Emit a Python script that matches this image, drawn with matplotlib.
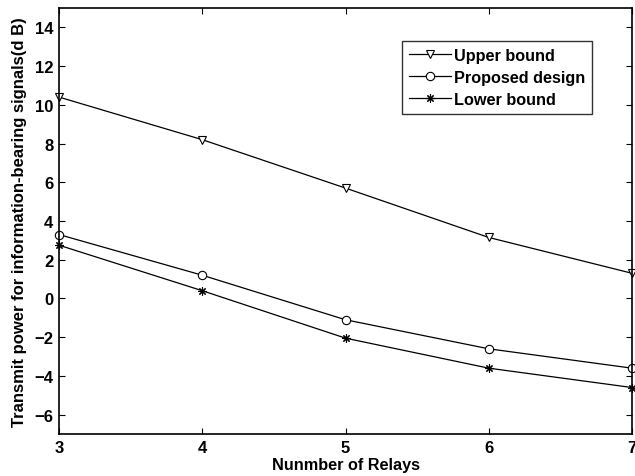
import matplotlib
matplotlib.use("Agg")
import matplotlib.pyplot as plt

# Dati
relays = [3, 4, 5, 6, 7]
upper_bound = [10.4, 8.2, 5.7, 3.15, 1.3]
proposed = [3.3, 1.2, -1.1, -2.6, -3.6]
lower_bound = [2.75, 0.4, -2.05, -3.6, -4.6]

yticks = [-6, -4, -2, 0, 2, 4, 6, 8, 10, 12, 14]

plt.rcParams["font.family"] = ["Liberation Sans", "DejaVu Sans"]
plt.rcParams["font.weight"] = "bold"

fig = plt.figure(figsize=(6.35, 4.77), dpi=100)
ax = fig.add_axes([59 / 635, 1 - 435 / 477, (632 - 59) / 635, (435 - 9) / 477])

# Stile comune delle serie (nero, marker vuoti come in MATLAB)
common = dict(color="black", linewidth=0.9, markerfacecolor="white",
              markeredgecolor="black", markeredgewidth=0.8, clip_on=False)
ax.plot(relays, upper_bound, marker="v", markersize=6, label="Upper bound", **common)
ax.plot(relays, proposed, marker="o", markersize=6, label="Proposed design", **common)
ax.plot(relays, lower_bound, marker=(8, 2, 0), markersize=6, label="Lower bound", **common)

ax.set_xlim(3, 7)
ax.set_ylim(-7, 15)
ax.set_xticks(relays)
ax.set_yticks(yticks)
ax.tick_params(direction="in", length=4, width=0.8, top=True, right=True,
               labelsize=12, pad=4)
for lbl in ax.get_xticklabels() + ax.get_yticklabels():
    lbl.set_fontweight("bold")
for s in ax.spines.values():
    s.set_linewidth(1.2)

ax.set_xlabel("Nunmber of Relays", fontsize=11.7, fontweight="bold", labelpad=2)
ax.set_ylabel("Transmit power for information-bearing signals(d B)",
              fontsize=12, fontweight="bold", labelpad=5)

leg = ax.legend(loc="upper right", fontsize=11.7, frameon=True, fancybox=False,
                borderpad=0.4, handlelength=2.6, handletextpad=0.2,
                labelspacing=0.45, borderaxespad=0,
                bbox_to_anchor=((592 - 59) / 573, (435 - 42) / 426))
leg.get_frame().set_edgecolor("black")
leg.get_frame().set_linewidth(1.0)
for t in leg.get_texts():
    t.set_fontweight("bold")

fig.savefig("out.png", dpi=100)
